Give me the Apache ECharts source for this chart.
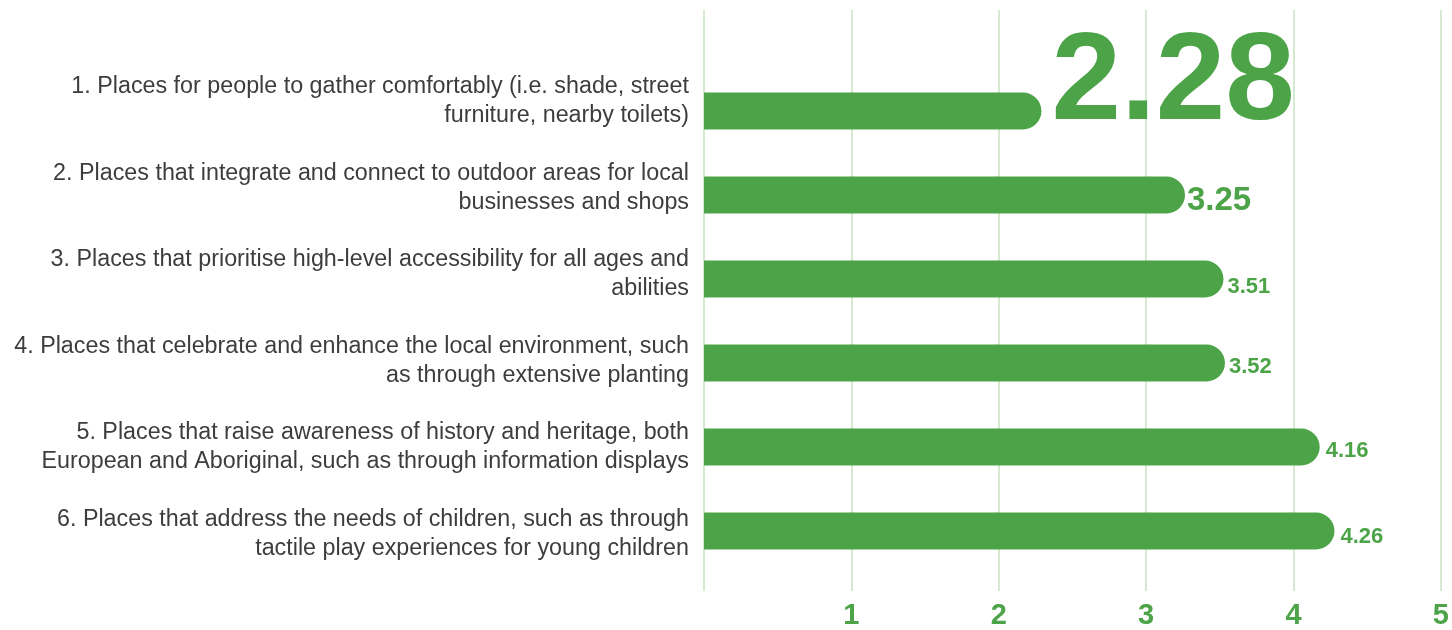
<!DOCTYPE html>
<html>
<head>
<meta charset="utf-8">
<script src="https://cdn.jsdelivr.net/npm/echarts@6/dist/echarts.min.js"></script>
<style>
  html, body { margin: 0; padding: 0; background: #ffffff; }
  #chart { width: 1452px; height: 630px; }
</style>
</head>
<body>
<div id="chart"></div>
<script>
// Survey items (one per bar, top to bottom)
const categories = [
  '1. Places for people to gather comfortably (i.e. shade, street\nfurniture, nearby toilets)',
  '2. Places that integrate and connect to outdoor areas for local\nbusinesses and shops',
  '3. Places that prioritise high-level accessibility for all ages and\nabilities',
  '4. Places that celebrate and enhance the local environment, such\nas through extensive planting',
  '5. Places that raise awareness of history and heritage, both\nEuropean and Aboriginal, such as through information displays',
  '6. Places that address the needs of children, such as through\ntactile play experiences for young children'
];

// Average ranking score for each item
const scores = [2.28, 3.25, 3.51, 3.52, 4.16, 4.26];

// Scale ticks along the bottom
const tickValues = [0, 1, 2, 3, 4, 5];
const tickLabels = ['', '1', '2', '3', '4', '5'];

const GREEN = '#4ca348';
const GRID_GREEN = '#d6ead1';

// Value label styling: the top-ranked item is emphasised
const labelLook = [
  { fontSize: 125, offset: [4, -26], distance: 6 },
  { fontSize: 33, offset: [0, 6], distance: 2 },
  { fontSize: 22, offset: [0, 8], distance: 4 },
  { fontSize: 22, offset: [0, 4], distance: 4 },
  { fontSize: 22, offset: [0, 4], distance: 6 },
  { fontSize: 22, offset: [0, 6], distance: 6 }
];

const LEFT = 704, RIGHT = 8;

const chart = echarts.init(document.getElementById('chart'), null, { renderer: 'canvas' });

const option = {
  backgroundColor: '#ffffff',
  animation: false,
  grid: [
    { left: LEFT, right: RIGHT, top: 69, bottom: 57 },   // bars
    { left: LEFT, right: RIGHT, top: 10, bottom: 37 },   // vertical guides + scale
    { left: LEFT, right: RIGHT, top: 58, bottom: 53 }    // item descriptions
  ],
  xAxis: [
    { gridIndex: 0, type: 'value', min: tickValues[0], max: tickValues[tickValues.length - 1], interval: 1, show: false },
    {
      gridIndex: 1, type: 'value', min: tickValues[0], max: tickValues[tickValues.length - 1], interval: 1,
      axisLine: { show: false }, axisTick: { show: false },
      splitLine: { show: true, lineStyle: { color: GRID_GREEN, width: 2 } },
      axisLabel: {
        margin: 10,
        color: GREEN,
        fontSize: 29,
        fontWeight: 'bold',
        fontFamily: 'Liberation Sans, Arial, sans-serif',
        formatter: v => tickLabels[tickValues.indexOf(v)] ?? ''
      }
    },
    { gridIndex: 2, type: 'value', min: 0, max: 5, show: false }
  ],
  yAxis: [
    { gridIndex: 0, type: 'category', data: categories, inverse: true, show: false },
    { gridIndex: 1, type: 'category', data: [''], show: false },
    {
      gridIndex: 2, type: 'category', data: categories, inverse: true,
      axisLine: { show: false }, axisTick: { show: false }, splitLine: { show: false },
      axisLabel: {
        margin: 15,
        align: 'right',
        color: '#3d3d3d',
        fontSize: 23.3,
        lineHeight: 29,
        fontFamily: 'Liberation Sans, Arial, sans-serif'
      }
    }
  ],
  series: [
    {
      type: 'bar',
      xAxisIndex: 0,
      yAxisIndex: 0,
      barWidth: 37,
      z: 3,
      itemStyle: { color: GREEN, borderRadius: [0, 18.5, 18.5, 0] },
      data: scores.map((v, i) => ({
        value: v,
        label: {
          show: true,
          position: 'right',
          distance: labelLook[i].distance,
          offset: labelLook[i].offset,
          color: GREEN,
          fontWeight: 'bold',
          fontSize: labelLook[i].fontSize,
          fontFamily: 'Liberation Sans, Arial, sans-serif',
          formatter: p => p.value.toFixed(2)
        }
      }))
    }
  ]
};

chart.setOption(option);
</script>
</body>
</html>
